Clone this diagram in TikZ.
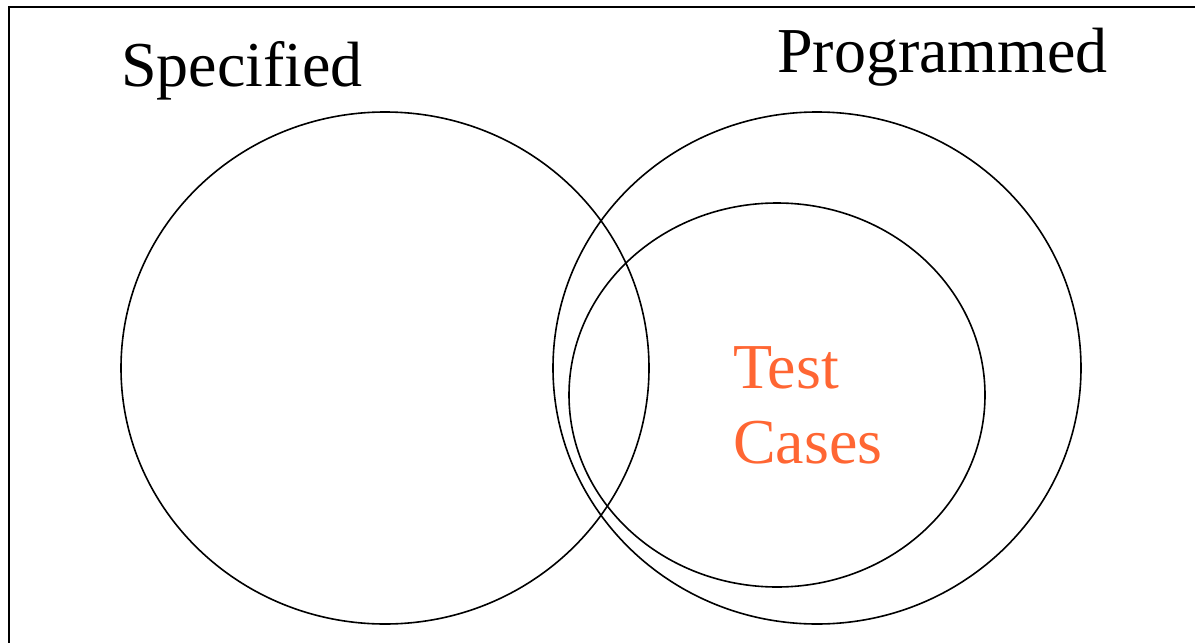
\documentclass[tikz,border=0pt]{standalone}
\usepackage{fontspec}
\setmainfont{Liberation Serif}
\newfontfamily\labelfont{Liberation Serif}
\definecolor{tcorange}{HTML}{FF6633}
\begin{document}
\begin{tikzpicture}[x=1pt,y=-1pt,
  setline/.style={draw=black,line width=1.6pt},
  setname/.style={anchor=base west,inner sep=0pt}]
\useasboundingbox (0,0) rectangle (1195,643);
% frame: only the left and top edges are visible
\draw[line width=2.6pt] (9,643) -- (9,7) -- (1195,7);
% sets
\draw[setline] (385,368) ellipse [x radius=264, y radius=256];
\draw[setline] (817,368) ellipse [x radius=264, y radius=256];
\draw[setline] (777,395) ellipse [x radius=208, y radius=192];
% labels
\node[setname] (spec) at (121,86) {\labelfont\fontsize{64}{75}\selectfont Specified};
\node[setname] (prog) at (777,72) {\labelfont\fontsize{64}{75}\selectfont Programmed};
\node[setname,text=tcorange] (test) at (733,388) {\labelfont\fontsize{64}{75}\selectfont Test};
\node[setname,text=tcorange] (cases) at (733,463) {\labelfont\fontsize{64}{75}\selectfont Cases};
\end{tikzpicture}
\end{document}
